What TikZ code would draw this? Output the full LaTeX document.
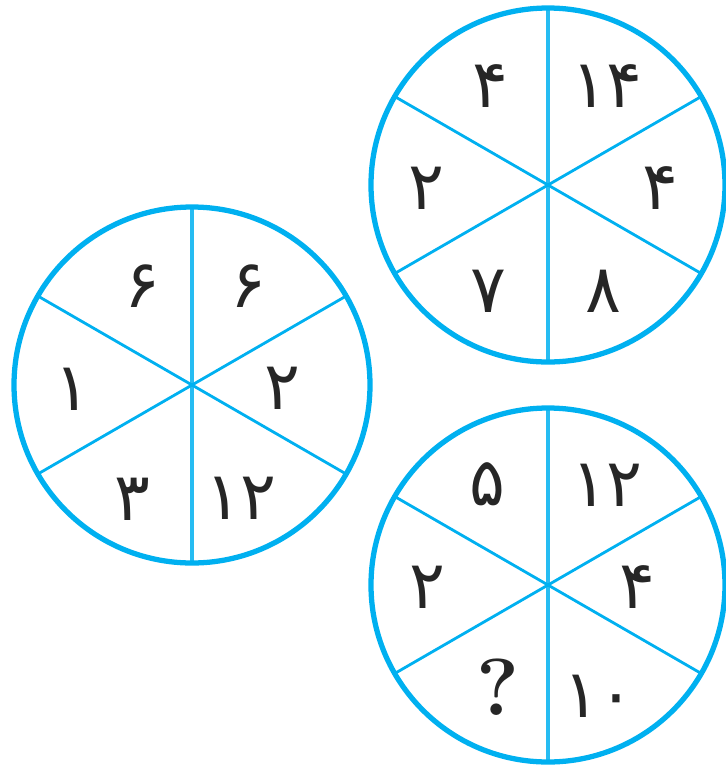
\documentclass[tikz,border=0pt]{standalone}
\usepackage{fontspec}
\newfontfamily\persianfont[Script=Arabic]{DejaVu Sans}
\definecolor{wheelblue}{RGB}{0,176,240}

\begin{document}
\begin{tikzpicture}[
  x=0.02cm, y=-0.02cm,
  line cap=round,
  line join=round,
  rim/.style={draw=wheelblue, line width=3pt},
  spoke/.style={draw=wheelblue, line width=1.6pt},
  midspoke/.style={draw=wheelblue!85, line width=2pt},
  every node/.style={font=\persianfont\fontsize{38}{44}\selectfont, text=black!85}
]
\useasboundingbox (0,0) rectangle (726,769);

% --- left wheel, centre (192,385) ---
\coordinate (lc) at (192,385);
\draw[midspoke] ([shift={(90:178)}]lc) -- ([shift={(270:178)}]lc);
\draw[spoke] ([shift={(30:178)}]lc) -- ([shift={(210:178)}]lc);
\draw[spoke] ([shift={(150:178)}]lc) -- ([shift={(330:178)}]lc);
\draw[rim] (lc) circle[radius=178];

\node (lw1) at (142,286) {۶};
\node (lw2) at (248,286) {۶};
\node (lw3) at (282,388) {۲};
\node (lw4) at (241,498) {۱۲};
\node (lw5) at (132,499) {۳};
\node (lw6) at (72,389) {۱};

% --- top wheel, centre (548,185) ---
\coordinate (tc) at (548,185);
\draw[midspoke] ([shift={(90:177)}]tc) -- ([shift={(270:177)}]tc);
\draw[spoke] ([shift={(30:177)}]tc) -- ([shift={(210:177)}]tc);
\draw[spoke] ([shift={(150:177)}]tc) -- ([shift={(330:177)}]tc);
\draw[rim] (tc) circle[radius=177];

\node (tw1) at (490,86) {۴};
\node (tw2) at (607,86) {۱۴};
\node (tw3) at (660,188) {۴};
\node (tw4) at (603,291) {۸};
\node (tw5) at (488,291) {۷};
\node (tw6) at (426,188) {۲};

% --- bottom wheel, centre (548,585) ---
\coordinate (bc) at (548,585);
\draw[midspoke] ([shift={(90:177)}]bc) -- ([shift={(270:177)}]bc);
\draw[spoke] ([shift={(30:177)}]bc) -- ([shift={(210:177)}]bc);
\draw[spoke] ([shift={(150:177)}]bc) -- ([shift={(330:177)}]bc);
\draw[rim] (bc) circle[radius=177];

\node (bw1) at (487,484) {۵};
\node (bw2) at (607,485) {۱۲};
\node (bw3) at (637,587) {۴};
\node (bw4) at (599,696) {۱۰};
\node (bw5) at (498,687) {\rmfamily\bfseries\fontsize{46}{52}\selectfont ?};
\node (bw6) at (427,587) {۲};

\end{tikzpicture}
\end{document}
